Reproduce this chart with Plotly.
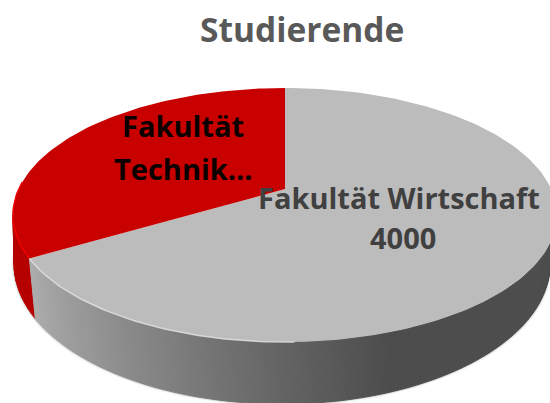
import numpy as np
import plotly.graph_objects as go

title = "Studierende"
categories = ["Fakultät Wirtschaft", "Fakultät Technik"]
values = [4000, 1760]
top_colors = ["#bcbcbc", "#c80000"]
FONT = "Open Sans"

# projection of the tilted disc (page pixels)
TOP = dict(cx=285, cy=215, rx=272, ry=127)
BOT = dict(cx=282, cy=264, rx=268, ry=140)
APEX = (285, 189)


def rim(e, deg):
    t = np.radians(deg)
    return e["cx"] + e["rx"] * np.sin(t), e["cy"] - e["ry"] * np.cos(t)


def grey_at(x):
    xs = [20, 60, 130, 230, 330, 390, 560]
    gs = [178, 160, 138, 112, 90, 77, 77]
    g = int(np.interp(x, xs, gs))
    return f"rgb({g},{g},{g})"


split = values[0] / sum(values) * 360
fig = go.Figure()


def bottom_angle(a):
    # the lower rim is seen with a small perspective lag on the left side
    return np.interp(a, [90, split, 272], [90, split - 3, 272])


def poly(x, y, color, width=1.0):
    fig.add_trace(go.Scatter(x=x, y=y, mode="lines", fill="toself", fillcolor=color,
                             line=dict(color=color, width=width), hoverinfo="skip", showlegend=False))


def wall(a0, a1, color=None):
    x0, y0 = rim(TOP, a0)
    x1, y1 = rim(TOP, a1)
    x2, y2 = rim(BOT, bottom_angle(a1))
    x3, y3 = rim(BOT, bottom_angle(a0))
    poly([x0, x1, x2, x3, x0], [y0, y1, y2, y3, y0], color or grey_at((x0 + x1 + x2 + x3) / 4))


# soft shadow below the wall
a = np.arange(85, 275, 2.0)
for w, c in [(5, "rgba(0,0,0,0.05)"), (2.5, "rgba(0,0,0,0.12)")]:
    bx, by = rim(BOT, a)
    fig.add_trace(go.Scatter(x=bx, y=by, mode="lines", line=dict(color=c, width=w),
                             hoverinfo="skip", showlegend=False))

# wall strips
edges = np.linspace(272, split, 12)
for a0, a1 in zip(edges[:-1], edges[1:]):
    wall(a0, a1, "#b60000")
edges = np.append(np.arange(80, split, 1.0), split)
for a0, a1 in zip(edges[:-1], edges[1:]):
    wall(a0, a1)

# top face
a = np.linspace(0, split, 200)
x, y = rim(TOP, a)
poly([APEX[0], *x, APEX[0]], [APEX[1], *y, APEX[1]], top_colors[0], 0)
a = np.linspace(split, 360, 100)
x, y = rim(TOP, a)
poly([APEX[0], *x, APEX[0]], [APEX[1], *y, APEX[1]], top_colors[1], 0)

# rim highlights
a = np.linspace(178, split, 50)
x, y = rim(TOP, a)
fig.add_trace(go.Scatter(x=x, y=y, mode="lines", line=dict(color="rgba(222,222,222,0.9)", width=1.5),
                         hoverinfo="skip", showlegend=False))
a = np.linspace(split, 285, 30)
x, y = rim(TOP, a)
fig.add_trace(go.Scatter(x=x, y=y, mode="lines", line=dict(color="#ee0000", width=1.5),
                         hoverinfo="skip", showlegend=False))

labels = [
    ("Fakultät", 183, 125, "#0a0000"),
    ("Technik...", 183, 168, "#0a0000"),
    (categories[0], 399, 197, "#404040"),
    (str(values[0]), 403, 237, "#404040"),
]
ann = [dict(x=lx, y=ly, text=f"<b>{t}</b>", showarrow=False, xref="x", yref="y",
            font=dict(family=FONT, size=29, color=c)) for t, lx, ly, c in labels]
ann.append(dict(x=302, y=29, text=f"<b>{title}</b>", showarrow=False, xref="x", yref="y",
                font=dict(family=FONT, size=33.5, color="#595959")))

fig.update_layout(
    width=550, height=403, margin=dict(l=0, r=0, t=0, b=0),
    paper_bgcolor="white", plot_bgcolor="white", showlegend=False, annotations=ann,
    xaxis=dict(range=[0, 550], visible=False, fixedrange=True),
    yaxis=dict(range=[403, 0], visible=False, fixedrange=True),
)
fig.write_html("out.html", config=dict(displayModeBar=False),
               post_script="document.body.style.margin='0';document.body.style.overflow='hidden';")
